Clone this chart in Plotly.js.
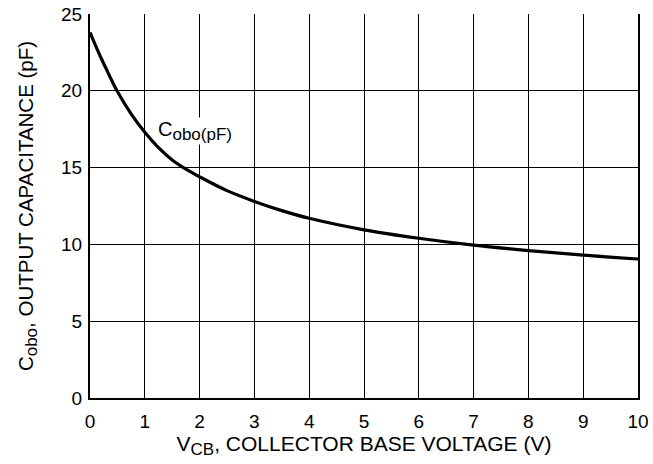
<!DOCTYPE html>
<html>
<head>
<meta charset="utf-8">
<script src="https://cdn.plot.ly/plotly-3.0.1.min.js"></script>
<style>html,body{margin:0;padding:0;background:#fff;}#chart{width:653px;height:464px;}</style>
</head>
<body>
<div id="chart"></div>
<script>
var vcb = [0, 0.1, 0.2, 0.3, 0.4, 0.5, 0.75, 1, 1.25, 1.5, 1.75, 2, 2.5, 3, 3.5, 4, 5, 6, 7, 8, 9, 10];
var cobo = [23.8, 22.95, 22.15, 21.4, 20.65, 19.95, 18.5, 17.3, 16.3, 15.5, 14.9, 14.4, 13.5, 12.8, 12.2, 11.7, 10.95, 10.4, 9.95, 9.6, 9.3, 9.05];
var xTicks = [0,1,2,3,4,5,6,7,8,9,10];
var yTicks = [0,5,10,15,20,25];
var seriesLabel = 'C<sub><span style="font-size:17px">obo(pF)</span></sub>';
var xTitle = 'V<sub><span style="font-size:17px">CB</span></sub>, COLLECTOR BASE VOLTAGE (V)';
var yTitle = 'C<sub><span style="font-size:17px">obo</span></sub>, OUTPUT CAPACITANCE (pF)';

var fam = 'Liberation Sans, Arial, sans-serif';
var tickFont = {family: fam, size: 19, color: '#000'};
var xTitleFont = {family: fam, size: 21, color: '#000'};
var yTitleFont = {family: fam, size: 20.5, color: '#000'};
var labelFont = {family: fam, size: 20, color: '#000'};
var trace = {
  x: vcb, y: cobo, type: 'scatter', mode: 'lines',
  line: {color: '#000', width: 3.2, shape: 'spline', smoothing: 1},
  hoverinfo: 'none', showlegend: false
};
var layout = {
  width: 653, height: 464,
  margin: {l: 90, r: 15, t: 14, b: 66},
  paper_bgcolor: '#fff', plot_bgcolor: '#fff',
  font: tickFont,
  xaxis: {
    range: [0, 10], tickvals: xTicks, ticktext: xTicks.map(String),
    showgrid: true, gridcolor: '#000', gridwidth: 1,
    showline: true, linecolor: '#000', linewidth: 2,
    zeroline: false, ticks: 'outside', ticklen: 5, tickcolor: 'rgba(0,0,0,0)', tickfont: tickFont,
    title: {text: xTitle, font: xTitleFont, standoff: 3}
  },
  yaxis: {
    range: [0, 25], tickvals: yTicks, ticktext: yTicks.map(String),
    showgrid: true, gridcolor: '#000', gridwidth: 1,
    showline: true, linecolor: '#000', linewidth: 2, mirror: true,
    zeroline: false, ticks: 'outside', ticklen: 2, tickcolor: 'rgba(0,0,0,0)', tickfont: tickFont,
    title: {text: yTitle, font: yTitleFont, standoff: 22}
  },
  annotations: [{
    x: 1.22, y: 17.4, xref: 'x', yref: 'y', text: seriesLabel,
    showarrow: false, xanchor: 'left', yanchor: 'middle', font: labelFont,
    bgcolor: '#fff', borderpad: 0
  }]
};
Plotly.newPlot('chart', [trace], layout, {staticPlot: true, displayModeBar: false});
</script>
</body>
</html>
